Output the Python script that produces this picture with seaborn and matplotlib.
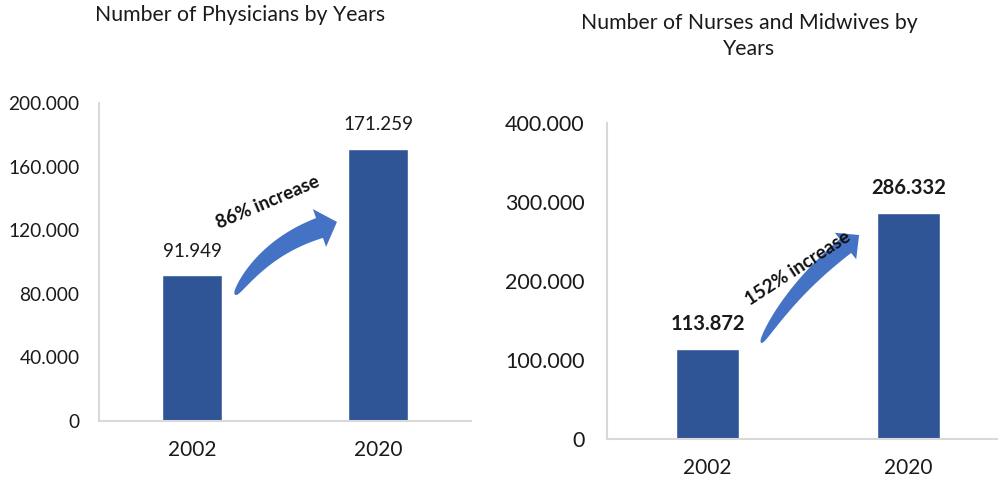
import numpy as np
import pandas as pd
import matplotlib
matplotlib.use("Agg")
import matplotlib.pyplot as plt
from matplotlib.patches import Polygon
from matplotlib.ticker import FuncFormatter
import seaborn as sns

# Data
years = ["2002", "2020"]
physicians = [91949, 171259]
nurses_midwives = [113872, 286332]
physician_increase = "86% increase"
nurse_increase = "152% increase"

BAR = "#2F5597"
ARROW = "#4472C4"
GRID = "#D9D9D9"
W, H = 998, 488

sns.set_theme(style="white")
plt.rcParams["font.family"] = ["Lato", "DejaVu Sans"]

fig = plt.figure(figsize=(W / 100, H / 100), dpi=100)


def px(x, y):
    """Pixel position (origin top-left) to figure fraction."""
    return x / W, 1 - y / H


def dotted(v, _pos=None):
    return f"{v:,.0f}".replace(",", ".")


def style_axes(ax, ymax, step, tick_size, year_size):
    ax.set_ylim(0, ymax)
    ax.set_yticks(np.arange(0, ymax + 1, step))
    ax.yaxis.set_major_formatter(FuncFormatter(dotted))
    ax.set_xlabel("")
    ax.set_ylabel("")
    for s in ("top", "right"):
        ax.spines[s].set_visible(False)
    for s in ("left", "bottom"):
        ax.spines[s].set_color(GRID)
        ax.spines[s].set_linewidth(1.5)
    ax.tick_params(axis="y", length=0, labelsize=tick_size, pad=14, colors="#1a1a1a")
    ax.tick_params(axis="x", length=0, labelsize=year_size, pad=14, colors="#1a1a1a")


def curved_arrow(p0, p1, p2, w_end, head_w, head_l, color):
    """Tapered curved arrow along a quadratic Bezier (pixel coordinates)."""
    p0, p1, p2 = map(np.asarray, (p0, p1, p2))
    t = np.linspace(0, 1, 80)[:, None]
    pts = (1 - t) ** 2 * p0 + 2 * (1 - t) * t * p1 + t ** 2 * p2
    d = 2 * (1 - t) * (p1 - p0) + 2 * t * (p2 - p1)
    d = d / np.linalg.norm(d, axis=1, keepdims=True)
    n = np.column_stack([-d[:, 1], d[:, 0]])
    w = w_end * (t[:, 0] ** 0.4)[:, None] / 2
    upper = pts + n * w
    lower = pts - n * w
    u, ne = d[-1], n[-1]
    head = [p2 + ne * head_w / 2, p2 + u * head_l, p2 - ne * head_w / 2]
    poly = np.vstack([upper, head, lower[::-1]])
    poly = np.array([px(x, y) for x, y in poly])
    fig.add_artist(Polygon(poly, closed=True, facecolor=color, edgecolor="none",
                           transform=fig.transFigure, zorder=5))


# Physicians
ax1 = fig.add_axes([99 / W, 1 - 421 / H, (471 - 99) / W, (421 - 103) / H])
df1 = pd.DataFrame({"year": years, "count": physicians})
sns.barplot(data=df1, x="year", y="count", color=BAR, saturation=1, width=0.32, ax=ax1)
ax1.set_xlim(-0.5, 1.5)
style_axes(ax1, 200000, 40000, 13.8, 15)
ax1.bar_label(ax1.containers[0], labels=[dotted(v) for v in physicians],
              padding=11, fontsize=13.5, color="#1a1a1a")
fig.text(*px(240, 15), "Number of Physicians by Years", ha="center", va="center",
         fontsize=15.3, color="#1a1a1a")

# Nurses and midwives
ax2 = fig.add_axes([607 / W, 1 - 439 / H, (998 - 607) / W, (439 - 123) / H])
df2 = pd.DataFrame({"year": years, "count": nurses_midwives})
sns.barplot(data=df2, x="year", y="count", color=BAR, saturation=1, width=0.315, ax=ax2)
ax2.set_xlim(-0.5, 1.445)
style_axes(ax2, 400000, 100000, 15.5, 15)
ax2.tick_params(axis="y", pad=16)
ax2.bar_label(ax2.containers[0], labels=[dotted(v) for v in nurses_midwives],
              padding=11, fontsize=14.5, fontweight="bold", color="#1a1a1a")
fig.text(*px(749, 36), "Number of Nurses and Midwives by\nYears", ha="center",
         va="center", fontsize=15.3, color="#1a1a1a", linespacing=1.4)

# Increase arrows and labels
curved_arrow((235, 295), (265, 247), (319.5, 228), 21, 40, 18.5, ARROW)
curved_arrow((761, 343), (791, 290), (845.5, 246), 18, 34, 17.5, ARROW)
fig.text(*px(268, 202), physician_increase, ha="center", va="center", rotation=23,
         rotation_mode="anchor", fontsize=13.5, fontweight="bold", color="#111111", zorder=6)
fig.text(*px(798, 268), nurse_increase, ha="center", va="center", rotation=33,
         rotation_mode="anchor", fontsize=13.5, fontweight="bold", color="#111111", zorder=6)

fig.savefig("out.png", dpi=100, facecolor="white")
